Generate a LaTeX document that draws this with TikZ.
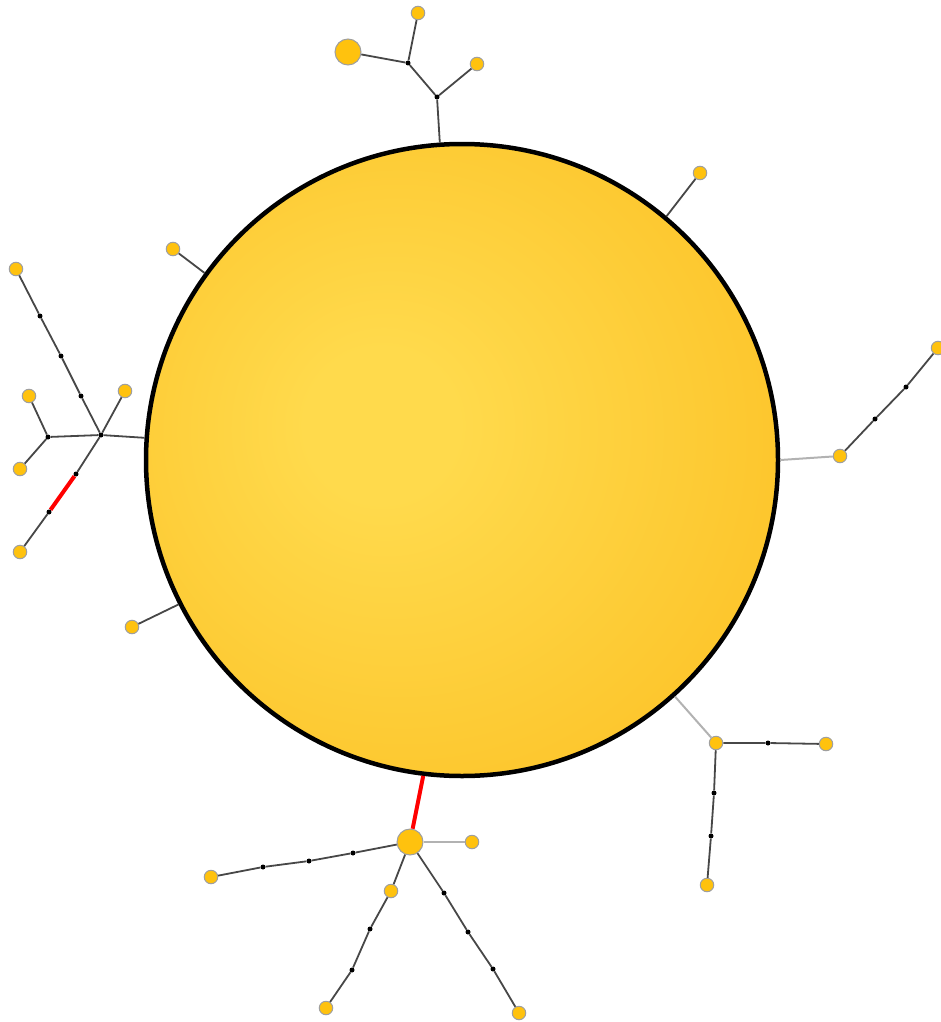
\documentclass[tikz,border=0pt]{standalone}
\usepackage{tikz}
\usetikzlibrary{calc,positioning}
\definecolor{sunin}{HTML}{FFDA4C}
\definecolor{sunout}{HTML}{FBBA1A}
\definecolor{leafc}{HTML}{FFC20E}
\pgfdeclareradialshading{sunshade}{\pgfpoint{-7bp}{3bp}}{color(0bp)=(sunin); color(6bp)=(sunin); color(44bp)=(sunout); color(70bp)=(sunout)}

\begin{document}
\begin{tikzpicture}[x=1pt,y=-1pt,
  l/.style={circle,draw=gray!75,fill=leafc,line width=1pt,inner sep=0pt,minimum size=13.5pt},
  L/.style={l,minimum size=26pt},
  d/.style={circle,fill=black,inner sep=0pt,minimum size=5pt},
  e/.style={draw=black!72,line width=1.8pt},
  g/.style={draw=black!30,line width=2pt},
  r/.style={draw=red,line width=4pt}]
  \useasboundingbox (0,0) rectangle (941,1022);
  \node[circle,draw=black,line width=4.5pt,shade,shading=sunshade,inner sep=0pt,
        minimum size=632pt] (sun) at (462,460) {};
  % top
  \node[d] (j1) at (437,97) {};
  \node[d] (j2) at (408,63) {};
  \node[L] (t0) at (348,52) {};
  \node[l] (t1) at (418,13) {};
  \node[l] (t2) at (477,64) {};
  \draw[e] (sun.94) -- (j1) -- (j2) -- (t0);
  \draw[e] (j2) -- (t1);
  \draw[e] (j1) -- (t2);
  % single leaves
  \node[l] (ne) at (700,173) {};
  \node[l] (nw) at (173,249) {};
  \node[l] (sw) at (132,627) {};
  \draw[e] (sun.50) -- (ne);
  \draw[e] (sun.144) -- (nw);
  \draw[e] (sun.207) -- (sw);
  % right
  \node[l] (r0) at (840,456) {};
  \node[d] (r1) at (875,419) {};
  \node[d] (r2) at (906,387) {};
  \node[l] (r3) at (938,348) {};
  \draw[g] (sun.0) -- (r0);
  \draw[e] (r0) -- (r1) -- (r2) -- (r3);
  % bottom right
  \node[l] (b0) at (716,743) {};
  \node[d] (b1) at (768,743) {};
  \node[l] (b2) at (826,744) {};
  \node[d] (b3) at (714,793) {};
  \node[d] (b4) at (711,836) {};
  \node[l] (b5) at (707,885) {};
  \draw[g] (sun.-48) -- (b0);
  \draw[e] (b0) -- (b1) -- (b2);
  \draw[e] (b0) -- (b3) -- (b4) -- (b5);
  % bottom
  \node[L] (m) at (410,842) {};
  \node[l] (m0) at (472,842) {};
  \draw[r] (sun.-97.4) -- (m);
  \draw[g] (m) -- (m0);
  \node[d] (a1) at (353,853) {};
  \node[d] (a2) at (309,861) {};
  \node[d] (a3) at (263,867) {};
  \node[l] (a4) at (211,877) {};
  \draw[e] (m) -- (a1) -- (a2) -- (a3) -- (a4);
  \node[l] (c1) at (391,891) {};
  \node[d] (c2) at (370,929) {};
  \node[d] (c3) at (352,970) {};
  \node[l] (c4) at (326,1008) {};
  \draw[e] (m) -- (c1) -- (c2) -- (c3) -- (c4);
  \node[d] (k1) at (444,893) {};
  \node[d] (k2) at (468,932) {};
  \node[d] (k3) at (493,969) {};
  \node[l] (k4) at (519,1013) {};
  \draw[e] (m) -- (k1) -- (k2) -- (k3) -- (k4);
  % left
  \node[d] (h) at (101,435) {};
  \node[d] (h1) at (81,396) {};
  \node[d] (h2) at (61,356) {};
  \node[d] (h3) at (40,316) {};
  \node[l] (h4) at (16,269) {};
  \node[d] (q) at (48,437) {};
  \node[l] (q1) at (29,396) {};
  \node[l] (q2) at (20,469) {};
  \node[l] (h5) at (125,391) {};
  \node[d] (p1) at (76,474) {};
  \node[d] (p2) at (49,512) {};
  \node[l] (p3) at (20,552) {};
  \draw[e] (sun.176.5) -- (h);
  \draw[e] (h) -- (h1) -- (h2) -- (h3) -- (h4);
  \draw[e] (h) -- (q) -- (q1);
  \draw[e] (q) -- (q2);
  \draw[e] (h) -- (h5);
  \draw[e] (h) -- (p1);
  \draw[r] (p1) -- (p2);
  \draw[e] (p2) -- (p3);
\end{tikzpicture}
\end{document}
